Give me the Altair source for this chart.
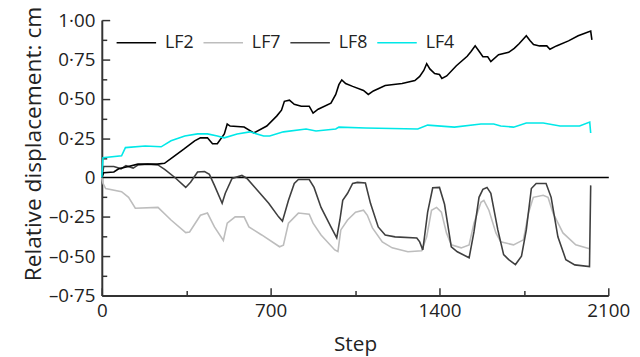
import altair as alt
import pandas as pd

# ---- data ----
lf2_step = [0, 8, 50, 70, 110, 150, 230, 260, 295, 340, 385, 409, 438, 459, 479, 508, 520, 532, 590, 630,
            684, 725, 745, 757, 778, 798, 827, 860, 876, 897, 950, 970, 983, 995, 1011, 1040, 1085, 1105,
            1126, 1175, 1245, 1298, 1318, 1335, 1347, 1360, 1380, 1400, 1410, 1430, 1470, 1515, 1531, 1548,
            1565, 1580, 1600, 1613, 1645, 1687, 1710, 1730, 1760, 1775, 1790, 1815, 1845, 1858, 1885, 1935,
            1975, 2000, 2027, 2032]
lf2_val = [0, 0.03, 0.035, 0.055, 0.07, 0.085, 0.085, 0.09, 0.13, 0.18, 0.233, 0.252, 0.252, 0.214, 0.214,
           0.277, 0.34, 0.327, 0.321, 0.283, 0.327, 0.39, 0.428, 0.484, 0.491, 0.465, 0.453, 0.453, 0.409,
           0.434, 0.472, 0.528, 0.59, 0.62, 0.597, 0.579, 0.553, 0.528, 0.55, 0.585, 0.597, 0.616, 0.642,
           0.68, 0.723, 0.69, 0.66, 0.654, 0.629, 0.645, 0.71, 0.77, 0.80, 0.836, 0.80, 0.767, 0.767, 0.736,
           0.78, 0.795, 0.82, 0.85, 0.90, 0.87, 0.845, 0.836, 0.836, 0.815, 0.836, 0.868, 0.90, 0.915, 0.93,
           0.875]

lf7_step = [0, 5, 16, 82, 111, 139, 233, 287, 348, 364, 409, 438, 467, 504, 520, 553, 590, 610, 663, 737,
            753, 774, 815, 860, 876, 909, 966, 979, 991, 1019, 1052, 1085, 1101, 1122, 1163, 1204, 1269,
            1326, 1347, 1367, 1388, 1408, 1429, 1449, 1490, 1523, 1543, 1572, 1584, 1605, 1634, 1654, 1707,
            1748, 1769, 1789, 1830, 1850, 1871, 1912, 1965, 2022]
lf7_val = [0, -0.038, -0.07, -0.09, -0.126, -0.195, -0.19, -0.27, -0.35, -0.346, -0.24, -0.226, -0.314,
           -0.40, -0.29, -0.25, -0.25, -0.314, -0.365, -0.44, -0.43, -0.29, -0.226, -0.233, -0.29, -0.365,
           -0.46, -0.47, -0.333, -0.27, -0.22, -0.208, -0.24, -0.32, -0.409, -0.447, -0.472, -0.465, -0.377,
           -0.208, -0.19, -0.22, -0.352, -0.428, -0.447, -0.428, -0.29, -0.157, -0.145, -0.208, -0.352,
           -0.409, -0.428, -0.396, -0.226, -0.126, -0.113, -0.126, -0.226, -0.352, -0.428, -0.453]

lf8_step = [0, 8, 50, 80, 100, 130, 151, 190, 233, 262, 303, 348, 368, 397, 426, 446, 467, 499, 512, 540,
            581, 602, 635, 692, 733, 749, 774, 798, 815, 860, 880, 909, 950, 974, 987, 999, 1019, 1040, 1060,
            1093, 1114, 1146, 1175, 1216, 1306, 1318, 1331, 1351, 1372, 1400, 1421, 1449, 1474, 1523, 1543,
            1564, 1580, 1597, 1613, 1642, 1666, 1687, 1715, 1740, 1760, 1781, 1801, 1842, 1863, 1891, 1924,
            1961, 2022, 2027]
lf8_val = [0, 0.07, 0.07, 0.055, 0.075, 0.06, 0.08, 0.085, 0.08, 0.05, 0.0, -0.063, -0.03, 0.035, 0.038,
           0.02, -0.05, -0.164, -0.10, -0.006, 0.013, -0.006, -0.063, -0.164, -0.25, -0.277, -0.145, -0.038,
           -0.013, -0.013, -0.063, -0.19, -0.314, -0.384, -0.27, -0.145, -0.10, -0.038, -0.031, -0.035,
           -0.164, -0.314, -0.365, -0.377, -0.384, -0.409, -0.46, -0.22, -0.065, -0.063, -0.17, -0.44,
           -0.472, -0.51, -0.346, -0.126, -0.075, -0.063, -0.10, -0.333, -0.49, -0.522, -0.553, -0.50,
           -0.333, -0.07, -0.038, -0.038, -0.126, -0.377, -0.522, -0.555, -0.566, -0.05]

lf4_step = [0, 5, 82, 98, 180, 246, 287, 344, 397, 438, 479, 508, 561, 614, 671, 696, 753, 847, 888, 970,
            983, 1093, 1310, 1351, 1462, 1572, 1625, 1654, 1707, 1760, 1830, 1900, 1981, 2023, 2027]
lf4_val = [0, 0.126, 0.138, 0.19, 0.20, 0.195, 0.233, 0.264, 0.277, 0.277, 0.264, 0.252, 0.277, 0.29,
           0.264, 0.264, 0.29, 0.308, 0.296, 0.308, 0.32, 0.314, 0.308, 0.333, 0.32, 0.34, 0.34, 0.327,
           0.32, 0.346, 0.346, 0.327, 0.327, 0.352, 0.283]

series_names = ["LF2", "LF7", "LF8", "LF4"]
series_colors = ["#000000", "#bdbdbd", "#3f3f3f", "#00e8e8"]

# axis marks: labelled values plus the unlabelled minor ticks between them
x_ticks = [0, 350, 700, 1050, 1400, 1750, 2100]
y_ticks = [-0.75, -0.625, -0.5, -0.375, -0.25, -0.125, 0, 0.125, 0.25, 0.375, 0.5, 0.625, 0.75, 0.875, 1.0]

frames = []
for name, s, v in [("LF7", lf7_step, lf7_val), ("LF8", lf8_step, lf8_val),
                   ("LF2", lf2_step, lf2_val), ("LF4", lf4_step, lf4_val)]:
    frames.append(pd.DataFrame({"step": s, "value": v, "series": name}))
df = pd.concat(frames, ignore_index=True)

W, H = 513, 279
FONT = "Open Sans"
TXT = "#222222"
AX = "#333333"
MAJ, MIN = 8, 5   # inward tick lengths (px)

y_is_major = "abs(datum.value * 4 - round(datum.value * 4)) < 0.001"
x_is_major = "datum.value % 700 == 0"

ylabel = ("!(" + y_is_major + ") ? '' : datum.value == 0 ? '0' : "
          "(datum.value < 0 ? '\u2013' : '') + replace(format(abs(datum.value), '.2f'), '.', '\u00b7')")
xlabel = "(" + x_is_major + ") ? format(datum.value, 'd') : ''"

chart = alt.Chart(df).mark_line(strokeWidth=1.6).encode(
    x=alt.X("step:Q", scale=alt.Scale(domain=[0, 2100], nice=False, zero=False),
            axis=alt.Axis(values=x_ticks, labelExpr=xlabel, title="Step", ticks=False,
                          grid=True, gridColor=AX, gridWidth=1.5,
                          gridDash={"condition": {"test": x_is_major,
                                                  "value": [0, H - MAJ, MAJ, 2000]},
                                    "value": [0, H - MIN, MIN, 2000]},
                          domainColor=AX, domainWidth=2, labelFont=FONT, labelFontSize=19,
                          labelColor=TXT, labelPadding=6, titleFont=FONT, titleFontSize=21,
                          titleFontWeight="normal", titleColor=TXT, titlePadding=14, labelFlush=False,
                          labelOverlap=False)),
    y=alt.Y("value:Q", scale=alt.Scale(domain=[-0.75, 1.0], nice=False, zero=False),
            axis=alt.Axis(values=y_ticks, labelExpr=ylabel, title="Relative displacement: cm",
                          ticks=False, grid=True, gridWidth=1.5,
                          gridColor={"condition": {"test": "datum.value == 0", "value": "#000000"},
                                     "value": AX},
                          gridDash={"condition": [{"test": "datum.value == 0", "value": [2000, 0]},
                                                  {"test": y_is_major, "value": [MAJ, 2000]}],
                                    "value": [MIN, 2000]},
                          domainColor=AX, domainWidth=2,
                          labelFont=FONT, labelFontSize=19, labelColor=TXT, labelPadding=7,
                          titleFont=FONT, titleFontSize=23, titleFontWeight="normal", titleColor=TXT,
                          titlePadding=3, titleY=125, labelFlush=False, labelOverlap=False)),
    color=alt.Color("series:N",
                    scale=alt.Scale(domain=series_names, range=series_colors),
                    legend=alt.Legend(title=None, orient="none", legendX=14, legendY=2,
                                      direction="horizontal", symbolType="stroke", symbolSize=1600,
                                      symbolStrokeWidth=1.6, labelFont=FONT, labelFontSize=18,
                                      labelColor=TXT, labelOffset=8, columnPadding=6)),
    detail="series:N",
).properties(
    width=W, height=H,
    autosize=alt.AutoSizeParams(type="none"),
    padding={"left": 95, "top": 10, "right": 24, "bottom": 62},
).configure_view(stroke=None)

chart.save("out.html", embed_options={"renderer": "svg", "actions": False})
